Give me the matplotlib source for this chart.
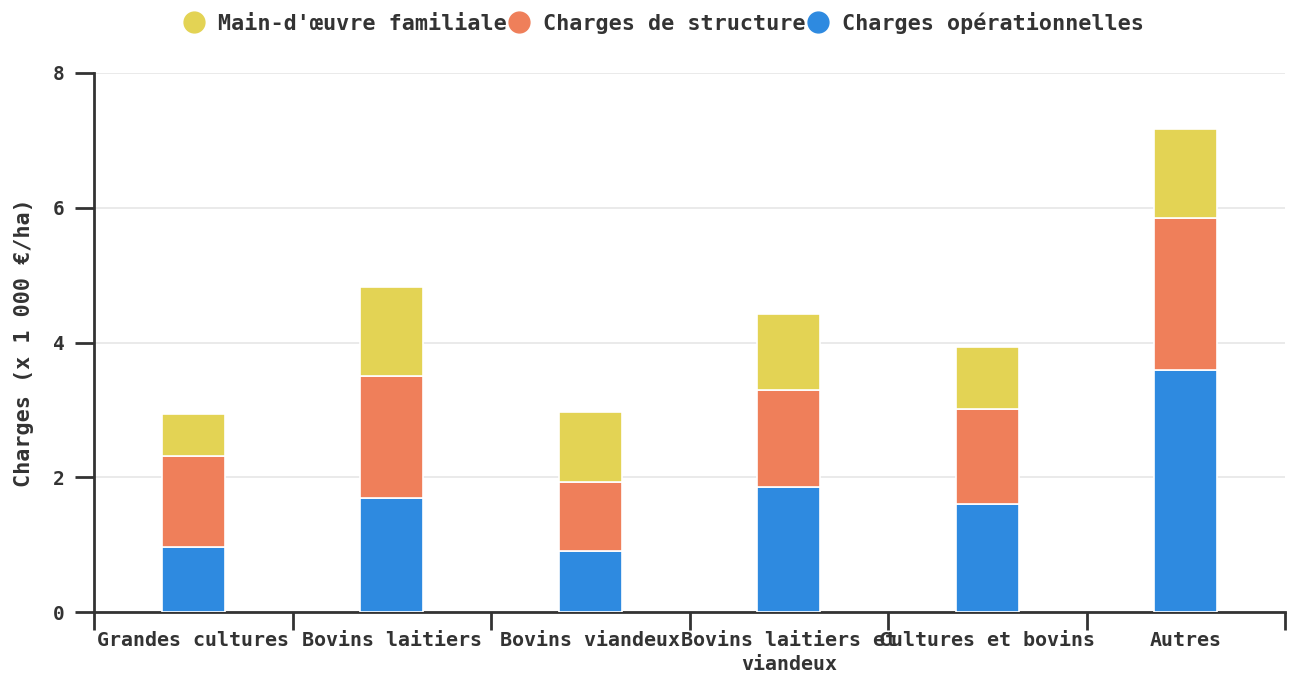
import matplotlib
matplotlib.use("Agg")
import matplotlib.pyplot as plt
from matplotlib.lines import Line2D
import numpy as np

categories = ["Grandes cultures", "Bovins laitiers", "Bovins viandeux",
              "Bovins laitiers et\nviandeux", "Cultures et bovins", "Autres"]
operationnelles = [0.96, 1.69, 0.90, 1.85, 1.60, 3.59]
structure = [1.35, 1.81, 1.03, 1.44, 1.41, 2.26]
main_oeuvre = [0.63, 1.32, 1.04, 1.13, 0.92, 1.32]
series_names = ["Main-d'œuvre familiale", "Charges de structure", "Charges opérationnelles"]
colors = {"Main-d'œuvre familiale": "#E3D354",
          "Charges de structure": "#EF7F5A",
          "Charges opérationnelles": "#2E8AE0"}
yticks = [0, 2, 4, 6, 8]

plt.rcParams['font.family'] = ['DejaVu Sans Mono']
plt.rcParams['font.weight'] = 'bold'
txt = "#333333"

fig = plt.figure(figsize=(12.96, 6.75), dpi=100)
ax = fig.add_axes([94/1296, 1 - 612/675, (1285 - 94)/1296, (612 - 73)/675])

x = np.arange(len(categories))
w = 0.315
b1 = np.array(operationnelles)
b2 = b1 + np.array(structure)
ax.bar(x, operationnelles, w, color=colors["Charges opérationnelles"], edgecolor="white", linewidth=1.2, zorder=3)
ax.bar(x, structure, w, bottom=b1, color=colors["Charges de structure"], edgecolor="white", linewidth=1.2, zorder=3)
ax.bar(x, main_oeuvre, w, bottom=b2, color=colors["Main-d'œuvre familiale"], edgecolor="white", linewidth=1.2, zorder=3)

ax.set_xlim(-0.5, len(categories) - 0.5)
ax.set_ylim(0, 8)
ax.set_yticks(yticks)
ax.set_yticklabels([str(t) for t in yticks], fontsize=14, color=txt, fontweight='bold')
ax.yaxis.grid(True, color="#e6e6e6", linewidth=1.2, zorder=0)
ax.set_axisbelow(True)

ax.set_xticks(np.arange(-0.5, len(categories)), minor=False)
ax.set_xticklabels([""] * (len(categories) + 1))
ax.set_xticks(x, minor=True)
ax.set_xticklabels(categories, minor=True, fontsize=14.4, color=txt, fontweight='bold', linespacing=1.3)
ax.tick_params(axis='x', which='minor', length=0, pad=14)
ax.tick_params(axis='x', which='major', length=13, width=2, color="#333333", direction='out')
ax.tick_params(axis='y', which='major', length=14, width=2, color="#333333", direction='out', pad=7)

for s in ["top", "right"]:
    ax.spines[s].set_visible(False)
for s in ["left", "bottom"]:
    ax.spines[s].set_color("#333333")
    ax.spines[s].set_linewidth(2)

ax.set_ylabel("Charges (x 1 000 €/ha)", fontsize=15.7, color=txt, fontweight='bold', labelpad=14)

handles = [Line2D([0], [0], marker='o', linestyle='', markersize=15,
                  markerfacecolor=colors[n], markeredgecolor=colors[n]) for n in series_names]
leg = fig.legend(handles, series_names, loc='center', bbox_to_anchor=(0.512, 0.966), ncol=3,
                 frameon=False, fontsize=15.7, handletextpad=0.62, columnspacing=0.05,
                 handlelength=1.0)
for t in leg.get_texts():
    t.set_color(txt)
    t.set_fontweight('bold')

fig.savefig("out.png", dpi=100)
